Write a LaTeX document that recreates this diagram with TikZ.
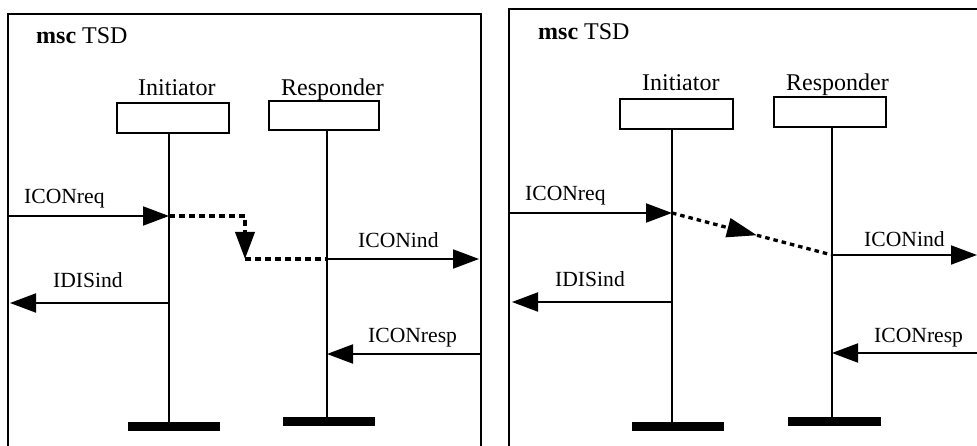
\documentclass[tikz,border=0pt]{standalone}
\usepackage{fontspec}
\setmainfont{Liberation Serif}
\usetikzlibrary{arrows.meta}
\begin{document}
\begin{tikzpicture}[x=1pt,y=-1pt,
  frame/.style={line width=2pt},
  instbox/.style={draw,line width=2.5pt,inner sep=0pt,outer sep=0pt},
  bar/.style={fill=black,draw=none,inner sep=0pt,outer sep=0pt,minimum width=92pt,minimum height=9pt},
  life/.style={line width=2pt},
  msg/.style={line width=2pt,-{Triangle[length=26pt,width=19pt]}},
  dotA/.style={line width=3.8pt,dash pattern=on 6pt off 4pt},
  dotB/.style={line width=3.3pt,dash pattern=on 4.5pt off 4pt},
  lbl/.style={anchor=base west,inner sep=0pt,font=\fontsize{21.6}{24}\selectfont},
  instname/.style={anchor=base west,inner sep=0pt,font=\fontsize{24}{28}\selectfont}]
\useasboundingbox (0,0) rectangle (977,446);
\clip (0,0) rectangle (977,446);
\fill[white] (0,0) rectangle (977,446);
% ---------------- left panel ----------------
\draw[frame] (8,470) -- (8,14) -- (481,14) -- (481,470);
\node[instname] (t1) at (36,44) {\textbf{msc} TSD};
\node[instname] (n1i) at (138,96) {Initiator};
\node[instname] (n1r) at (281,96) {Responder};
\node[instbox,minimum width=112pt,minimum height=30pt] (b1i) at (173,118) {};
\node[instbox,minimum width=110pt,minimum height=29pt] (b1r) at (324,115.5) {};
\node[bar] (s1i) at (174,426.5) {};
\node[bar] (s1r) at (329,421.5) {};
\coordinate (L1t) at (169,133); \coordinate (L1b) at (169,422);
\coordinate (R1t) at (327,130); \coordinate (R1b) at (327,417);
\draw[life] (L1t) -- (L1b);
\draw[life] (R1t) -- (R1b);
\coordinate (F1req) at (8,216); \coordinate (L1req) at (169,216);
\coordinate (K1) at (245,259); \coordinate (R1ind) at (327,259); \coordinate (F1ind) at (479,259);
\coordinate (L1dis) at (169,303); \coordinate (F1dis) at (10,303);
\coordinate (F1resp) at (481,354); \coordinate (R1resp) at (327,354);
\draw[msg] (F1req) -- (L1req);
\draw[dotA,-{Triangle[length=27pt,width=19pt]}] (L1req) -| (K1);
\draw[dotA] (K1) -- (R1ind);
\draw[msg] (R1ind) -- (F1ind);
\draw[msg] (L1dis) -- (F1dis);
\draw[msg] (F1resp) -- (R1resp);
\node[lbl] (m1a) at (24,204) {ICONreq};
\node[lbl] (m1b) at (358,248) {ICONind};
\node[lbl] (m1c) at (53,288) {IDISind};
\node[lbl] (m1d) at (368,342) {ICONresp};
% ---------------- right panel ----------------
\draw[frame] (509,470) -- (509,9) -- (990,9);
\node[instname] (t2) at (538,40) {\textbf{msc} TSD};
\node[instname] (n2i) at (642,91) {Initiator};
\node[instname] (n2r) at (786,91) {Responder};
\node[instbox,minimum width=113pt,minimum height=30pt] (b2i) at (676.5,114) {};
\node[instbox,minimum width=112pt,minimum height=30pt] (b2r) at (830,112) {};
\node[bar] (s2i) at (678,426.5) {};
\node[bar,minimum width=93pt] (s2r) at (834.5,421.5) {};
\coordinate (L2t) at (672,129); \coordinate (L2b) at (672,422);
\coordinate (R2t) at (832,127); \coordinate (R2b) at (832,417);
\draw[life] (L2t) -- (L2b);
\draw[life] (R2t) -- (R2b);
\coordinate (F2req) at (509,213); \coordinate (L2req) at (672,213);
\coordinate (M2) at (757,235.3); \coordinate (R2ind) at (832,255); \coordinate (F2ind) at (977,255);
\coordinate (L2dis) at (672,302); \coordinate (F2dis) at (512,302);
\coordinate (F2resp) at (980,353); \coordinate (R2resp) at (832,353);
\draw[msg] (F2req) -- (L2req);
\draw[dotB,-{Triangle[length=30pt,width=19pt]}] (L2req) -- (M2);
\draw[dotB] (M2) -- (R2ind);
\draw[msg] (R2ind) -- (F2ind);
\draw[msg] (L2dis) -- (F2dis);
\draw[msg] (F2resp) -- (R2resp);
\node[lbl] (m2a) at (525,201) {ICONreq};
\node[lbl] (m2b) at (864,247) {ICONind};
\node[lbl] (m2c) at (555,287) {IDISind};
\node[lbl] (m2d) at (874,342) {ICONresp};
\end{tikzpicture}
\end{document}
